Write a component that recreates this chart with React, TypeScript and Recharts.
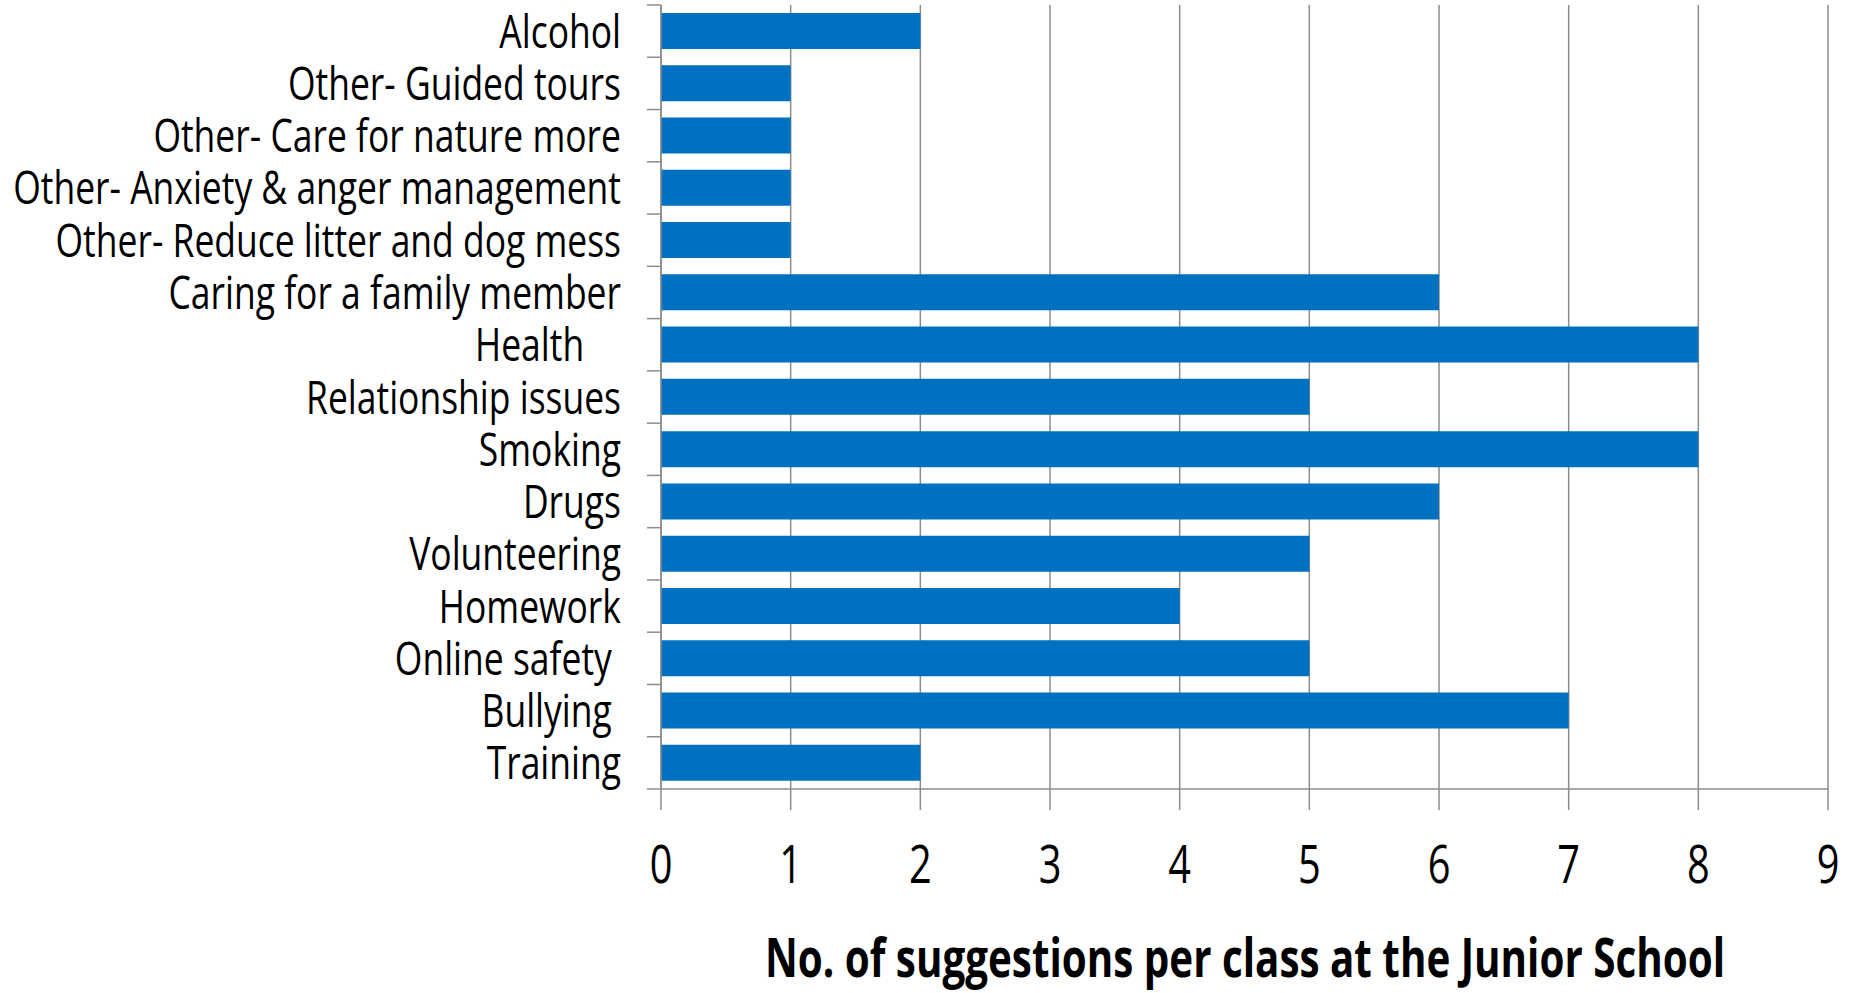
import React from 'react';
import { BarChart, Bar, XAxis, YAxis, CartesianGrid } from 'recharts';

// Suggestions per class, top to bottom as in the chart
const categories = [
  'Alcohol',
  'Other- Guided tours',
  'Other- Care for nature more',
  'Other- Anxiety & anger management',
  'Other- Reduce litter and dog mess',
  'Caring for a family member',
  'Health    ',
  'Relationship issues',
  'Smoking',
  'Drugs',
  'Volunteering',
  'Homework',
  'Online safety ',
  'Bullying ',
  'Training',
];
const suggestions = [2, 1, 1, 1, 1, 6, 8, 5, 8, 6, 5, 4, 5, 7, 2];
const xTicks = [0, 1, 2, 3, 4, 5, 6, 7, 8, 9];
const axisTitle = 'No. of suggestions per class at the Junior School';

const data = categories.map((name, i) => ({ name, value: suggestions[i] }));

const FONT = '"Open Sans", sans-serif';
const GRID = '#8c8c8c';
const LABEL_GAP = 40;
const MARK = 14;

// category label plus Excel-style tick marks between the categories
const CategoryTick = (props: any) => {
  const { x, y, payload, index, visibleTicksCount, height } = props;
  const half = (height || 784) / (visibleTicksCount || categories.length) / 2;
  const ax = x + LABEL_GAP;
  return (
    <g>
      <line x1={ax - MARK} x2={ax} y1={y - half} y2={y - half} stroke={GRID} strokeWidth={1.5} />
      {index === visibleTicksCount - 1 && (
        <line x1={ax - MARK} x2={ax} y1={y + half} y2={y + half} stroke={GRID} strokeWidth={1.5} />
      )}
      <text
        transform={`translate(${x},${y + 16.5}) scale(0.771,1)`}
        textAnchor="end"
        fontFamily={FONT}
        fontSize={46}
        fill="#000"
        style={{ whiteSpace: 'pre' }}
      >
        {payload.value}
      </text>
    </g>
  );
};

const ValueTick = (props: any) => {
  const { x, y, payload } = props;
  return (
    <text
      transform={`translate(${x},${y + 71}) scale(0.75,1)`}
      textAnchor="middle"
      fontFamily={FONT}
      fontSize={53}
      fill="#000"
    >
      {payload.value}
    </text>
  );
};

export default function App() {
  return (
    <div style={{ position: 'absolute', left: 0, top: 0, background: '#fff' }}>
      <BarChart
        width={1854}
        height={993}
        data={data}
        layout="vertical"
        margin={{ top: 5, right: 26, left: 0, bottom: 24 }}
      >
        <CartesianGrid horizontal={false} stroke={GRID} strokeWidth={1.5} />
        <XAxis
          type="number"
          domain={[0, 9]}
          ticks={xTicks}
          interval={0}
          height={180}
          stroke={GRID}
          strokeWidth={1.5}
          tickSize={21}
          tick={<ValueTick />}
          label={{
            content: () => (
              <text
                x={1245}
                y={977}
                textAnchor="middle"
                fontFamily={FONT}
                fontWeight={700}
                fontSize={54}
                textLength={960}
                lengthAdjust="spacingAndGlyphs"
                fill="#000"
              >
                {axisTitle}
              </text>
            ),
          }}
        />
        <YAxis
          type="category"
          dataKey="name"
          width={661}
          interval={0}
          stroke={GRID}
          strokeWidth={1.5}
          tickLine={false}
          tickSize={0}
          tickMargin={LABEL_GAP}
          tick={<CategoryTick />}
        />
        <Bar
          dataKey="value"
          fill="#0070C0"
          barSize={36}
          isAnimationActive={false}
        />
      </BarChart>
    </div>
  );
}
